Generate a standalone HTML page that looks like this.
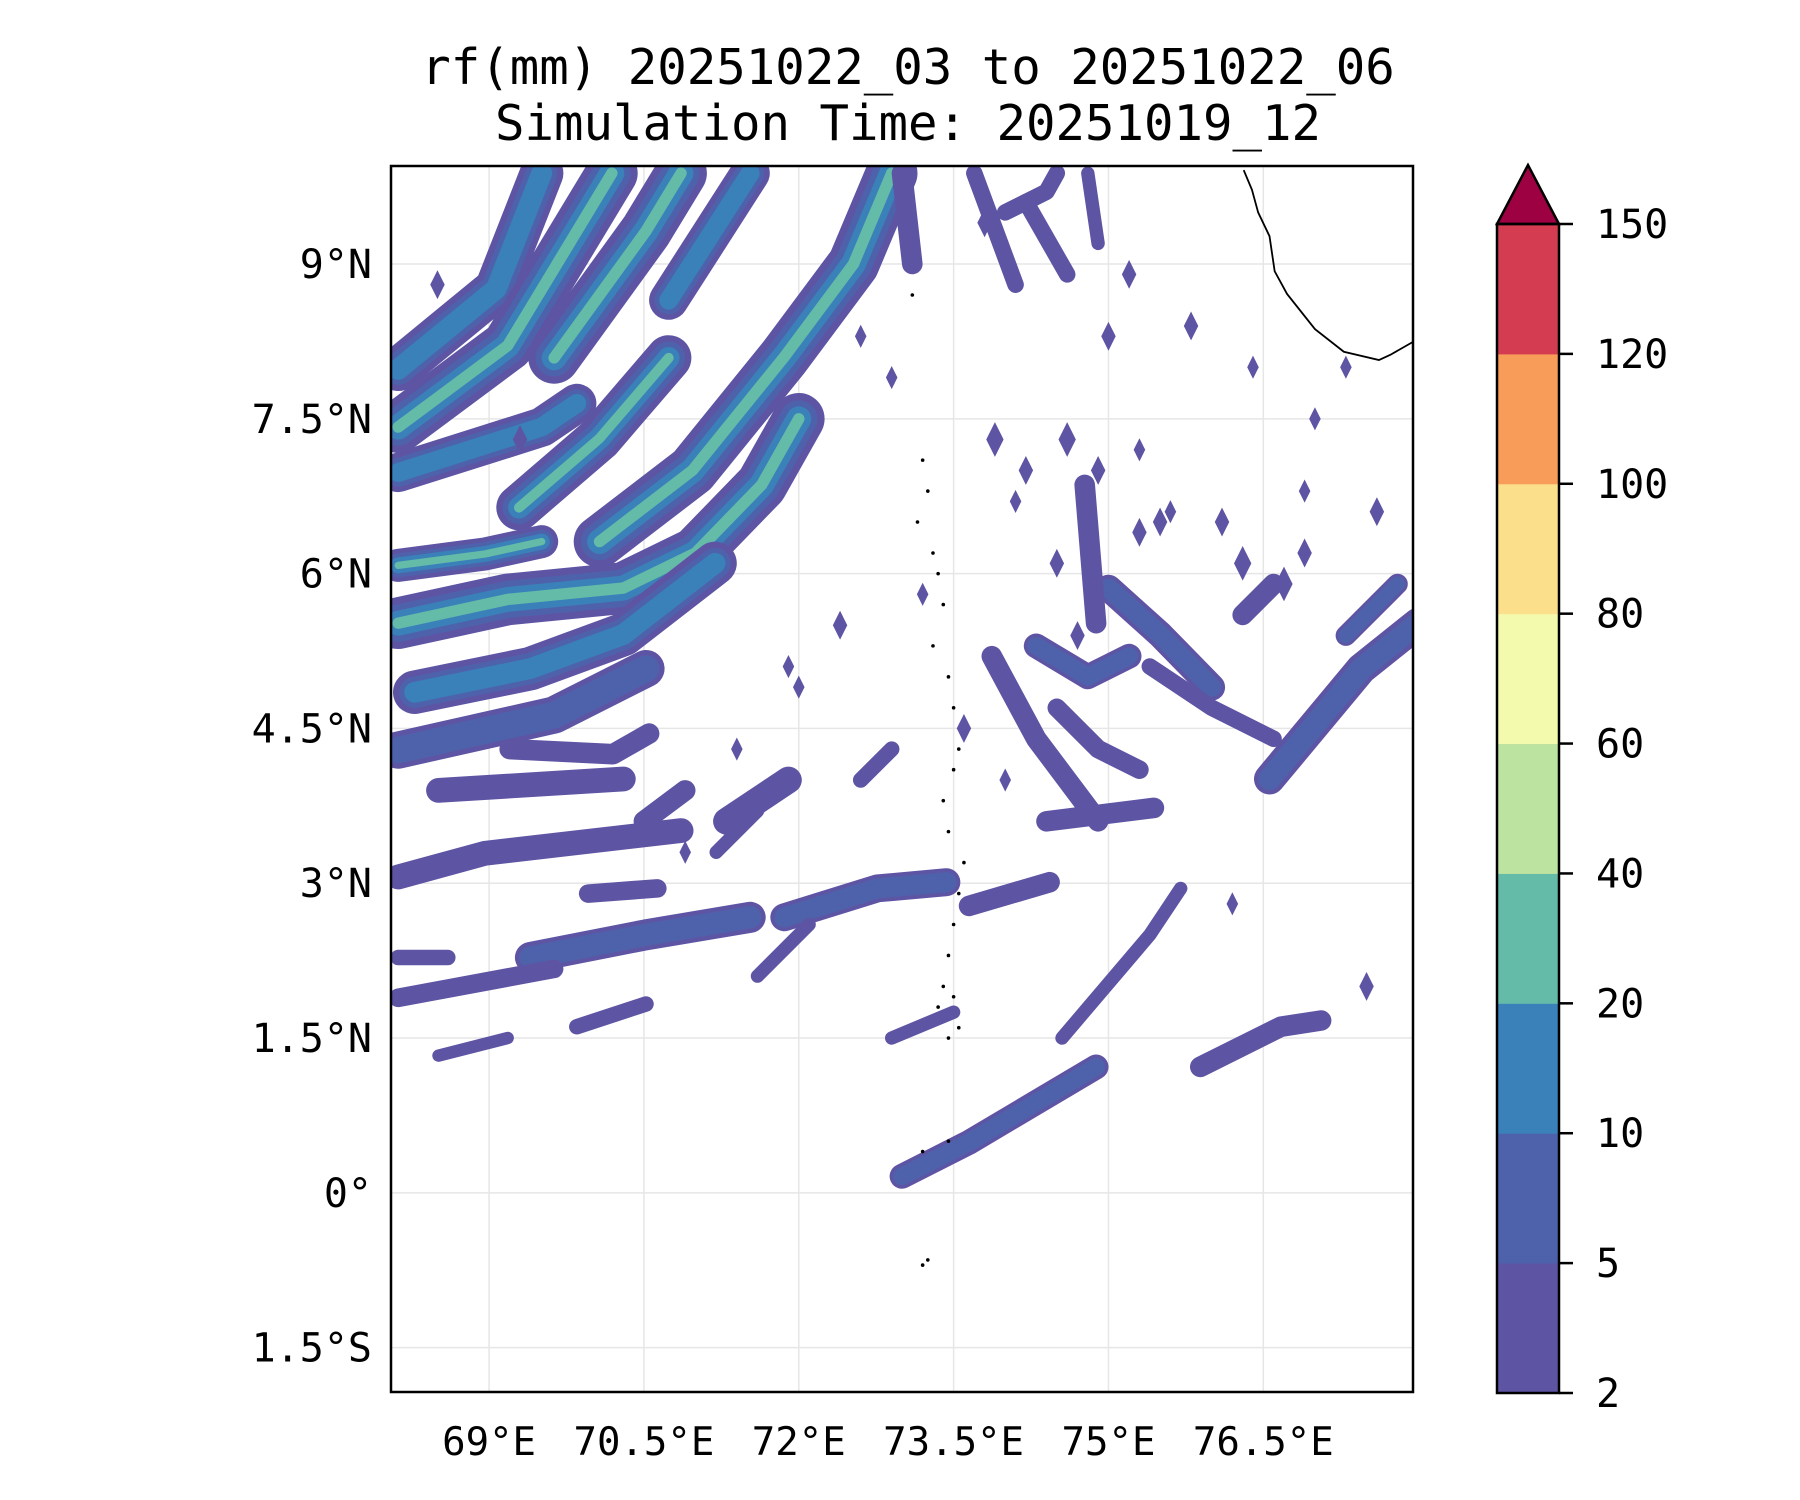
<!DOCTYPE html>
<html><head><meta charset="utf-8"><style>
body{margin:0;background:#fff;}
svg{display:block;font-family:"DejaVu Sans Mono","Liberation Mono",monospace;}
</style></head><body>
<svg id="chart" width="1800" height="1500" viewBox="0 0 1800 1500">
<text x="908" y="84" font-size="49" text-anchor="middle">rf(mm) 20251022_03 to 20251022_06</text>
<text x="908" y="140" font-size="49" text-anchor="middle">Simulation Time: 20251019_12</text>
<defs><clipPath id="clip"><rect x="391" y="166" width="1022" height="1226"/></clipPath></defs>
<g id="grid"></g>
<g id="field" clip-path="url(#clip)"></g>
<g id="coast" clip-path="url(#clip)"></g>
<rect x="391" y="166" width="1022" height="1226" fill="none" stroke="#000" stroke-width="2.5"/>
<g id="xt"></g>
<g id="yt"></g>
<g id="cb"></g>
</svg>
<script>
const NS="http://www.w3.org/2000/svg";
const lonMin=68.05, lonMax=77.95, latMin=-1.93, latMax=9.95;
const xTicks=[69,70.5,72,73.5,75,76.5];
const xTickLabels=["69°E","70.5°E","72°E","73.5°E","75°E","76.5°E"];
const yTicks=[-1.5,0,1.5,3,4.5,6,7.5,9];
const yTickLabels=["1.5°S","0°","1.5°N","3°N","4.5°N","6°N","7.5°N","9°N"];
const cbLevels=[2,5,10,20,40,60,80,100,120,150];
const cbColors=["#5e54a4","#4e62ab","#3a80b9","#63bba8","#bde3a0","#f3faad","#fbdf8b","#f89c59","#d43d51"];
const cbOverColor="#9e0142";
// rain bands: polylines in lon/lat, width in degrees, max level index
const bandPaths=[
[[68.12,7.98],[69.07,8.76],[69.51,9.88]],
[[68.12,7.42],[69.18,8.21],[70.19,9.88]],
[[68.12,6.98],[69.51,7.42],[69.85,7.65]],
[[69.63,8.09],[70.52,9.32],[70.86,9.88]],
[[69.29,6.64],[70.07,7.31],[70.74,8.09]],
[[70.74,8.65],[71.53,9.88]],
[[70.07,6.31],[70.97,7.0],[71.86,8.1],[72.53,9.0],[72.9,9.88]],
[[68.12,6.08],[68.96,6.19],[69.51,6.31]],
[[68.12,5.52],[69.18,5.75],[70.3,5.86],[71.0,6.2],[71.64,6.86],[72.0,7.5]],
[[68.28,4.85],[69.4,5.08],[70.3,5.41],[71.19,6.1]],
[[68.12,4.29],[69.63,4.63],[70.52,5.08]],
[[68.51,3.90],[70.3,4.01]],
[[68.12,3.06],[68.96,3.29],[70.86,3.51]],
[[69.96,2.90],[70.63,2.95]],
[[69.4,2.28],[70.52,2.50],[71.53,2.67]],
[[68.12,1.89],[69.63,2.17]],
[[68.12,2.28],[68.6,2.28]],
[[69.85,1.61],[70.52,1.83]],
[[68.51,1.33],[69.18,1.50]],
[[71.86,2.67],[72.76,2.95],[73.43,3.01]],
[[73.65,2.78],[74.43,3.01]],
[[73.0,0.16],[73.65,0.49],[74.88,1.22]],
[[75.89,1.22],[76.67,1.61],[77.06,1.67]],
[[76.56,4.01],[77.45,5.08],[78.0,5.52]],
[[74.4,3.6],[75.44,3.73]],
[[75.0,5.86],[75.5,5.41],[76.0,4.9]],
[[74.77,6.86],[74.88,5.52]],
[[71.3,3.6],[71.9,4.0]],
[[73.0,9.88],[73.1,9.0]],
[[73.7,9.88],[74.1,8.8]],
[[74.2,9.6],[74.6,8.9]],
[[74.8,9.88],[74.9,9.2]],
[[73.87,5.2],[74.3,4.4],[74.9,3.6]],
[[75.4,5.1],[76.0,4.7],[76.6,4.4]],
[[74.55,1.5],[75.4,2.5],[75.7,2.95]],
[[72.9,1.5],[73.5,1.75]],
[[71.6,2.1],[72.1,2.6]],
[[71.2,3.3],[71.6,3.7]],
[[74.3,5.3],[74.8,5.0],[75.2,5.2]],
[[76.3,5.6],[76.6,5.9]],
[[77.3,5.4],[77.8,5.9]],
[[69.2,4.3],[70.2,4.25],[70.55,4.45]],
[[70.5,3.6],[70.9,3.9]],
[[74.5,4.7],[74.9,4.3],[75.3,4.1]],
[[72.6,4.0],[72.9,4.3]],
[[74.0,9.5],[74.4,9.7],[74.5,9.88]]
];
const bandWidths=[0.42,0.5,0.38,0.5,0.44,0.38,0.5,0.32,0.5,0.42,0.36,0.24,0.24,0.18,0.3,0.18,0.15,0.15,0.12,0.27,0.2,0.24,0.2,0.3,0.2,0.26,0.2,0.26,0.2,0.16,0.16,0.13,0.2,0.16,0.13,0.13,0.13,0.13,0.24,0.2,0.2,0.2,0.2,0.18,0.15,0.16];
const bandLevels=[2,3,2,3,3,2,3,3,3,2,1,0,0,0,1,0,0,0,0,1,0,1,0,1,0,1,0,0,0,0,0,0,0,0,0,0,0,0,1,0,1,0,0,0,0,0];
// isolated small cells
const cellLon=[68.5,69.3,72.6,72.9,73.9,74.2,74.6,74.9,75.3,75.6,76.1,76.9,77.3,75.0,75.8,76.4,77.0,74.5,73.2,72.4,71.9,71.4,70.9,76.2,77.5,73.6,74.0,75.3,76.7,72.0,75.5,76.3,76.9,74.1,75.2,77.6,74.7,73.8];
const cellLat=[8.8,7.3,8.3,7.9,7.3,7.0,7.3,7.0,7.2,6.6,6.5,6.8,8.0,8.3,8.4,8.0,7.5,6.1,5.8,5.5,5.1,4.3,3.3,2.8,2.0,4.5,4.0,6.4,5.9,4.9,6.5,6.1,6.2,6.7,8.9,6.6,5.4,9.4];
const cellSize=[0.1,0.1,0.08,0.08,0.12,0.1,0.12,0.1,0.08,0.08,0.1,0.08,0.08,0.1,0.1,0.08,0.08,0.1,0.08,0.1,0.08,0.08,0.08,0.08,0.1,0.1,0.08,0.1,0.12,0.08,0.1,0.12,0.1,0.08,0.1,0.1,0.1,0.1];
// coastline and islands
const coastLon=[76.31,76.39,76.45,76.56,76.61,76.73,77.0,77.28,77.62,77.73,78.01];
const coastLat=[9.91,9.72,9.5,9.27,8.93,8.71,8.37,8.15,8.07,8.12,8.28];
const islandLon=[73.1,73.2,73.25,73.15,73.3,73.35,73.4,73.3,73.45,73.5,73.55,73.5,73.4,73.45,73.6,73.55,73.5,73.45,73.4,73.35,73.45,73.5,73.55,73.45,73.2,73.25,73.2];
const islandLat=[8.7,7.1,6.8,6.5,6.2,6.0,5.7,5.3,5.0,4.7,4.3,4.1,3.8,3.5,3.2,2.9,2.6,2.3,2.0,1.8,1.5,1.9,1.6,0.5,0.4,-0.65,-0.7];

const X0=391,X1=1413,Y0=166,Y1=1392;
function xs(lon){return X0+(lon-lonMin)/(lonMax-lonMin)*(X1-X0);}
function ys(lat){return Y1-(lat-latMin)/(latMax-latMin)*(Y1-Y0);}
const pxPerDeg=(X1-X0)/(lonMax-lonMin);
function mk(tag,attrs,parent){const e=document.createElementNS(NS,tag);for(const k in attrs)e.setAttribute(k,attrs[k]);parent.appendChild(e);return e;}

const grid=document.getElementById('grid');
xTicks.forEach(t=>{const l=mk('line',{x1:xs(t),x2:xs(t),y1:Y0,y2:Y1,stroke:'#e6e6e6','stroke-width':1.5},grid);

});
yTicks.forEach(t=>{const l=mk('line',{x1:X0,x2:X1,y1:ys(t),y2:ys(t),stroke:'#e6e6e6','stroke-width':1.5},grid);

});

const field=document.getElementById('field');
const fracs=[1,0.72,0.48,0.22];
bandPaths.forEach((p,i)=>{
  const pts=p.map(q=>xs(q[0]).toFixed(1)+','+ys(q[1]).toFixed(1)).join(' ');
  for(let L=0;L<=bandLevels[i];L++){
    const e=mk('polyline',{points:pts,fill:'none',stroke:cbColors[L],'stroke-width':(bandWidths[i]*pxPerDeg*fracs[L]).toFixed(1),'stroke-linecap':'round','stroke-linejoin':'round'},field);
    
    
  }
});
cellLon.forEach((lo,i)=>{
  const cx=xs(lo),cy=ys(cellLat[i]),r=cellSize[i]*pxPerDeg;
  const e=mk('polygon',{points:`${cx},${cy-r*1.4} ${cx+r*0.7},${cy} ${cx},${cy+r*1.4} ${cx-r*0.7},${cy}`,fill:cbColors[0]},field);
  
  
});

const coast=document.getElementById('coast');
const cl=mk('polyline',{points:coastLon.map((lo,i)=>xs(lo)+','+ys(coastLat[i])).join(' '),fill:'none',stroke:'#000','stroke-width':1.8},coast);


islandLon.forEach((lo,i)=>{const d=mk('circle',{cx:xs(lo),cy:ys(islandLat[i]),r:1.8,fill:'#000'},coast);

});

const xt=document.getElementById('xt');
xTicks.forEach((t,i)=>{const e=mk('text',{x:xs(t),y:1455,'font-size':39,'text-anchor':'middle'},xt);e.textContent=xTickLabels[i];

});
const yt=document.getElementById('yt');
yTicks.forEach((t,i)=>{const e=mk('text',{x:372,y:ys(t)+14,'font-size':40,'text-anchor':'end'},yt);e.textContent=yTickLabels[i];

});

const cb=document.getElementById('cb');
const CX0=1497,CX1=1559,CT=224,CB=1393,seg=(CB-CT)/cbColors.length;
cbColors.forEach((c,i)=>{const r=mk('rect',{x:CX0,y:CB-(i+1)*seg,width:CX1-CX0,height:seg+0.5,fill:c},cb);

});
const tri=mk('polygon',{points:`${CX0},${CT} ${(CX0+CX1)/2},${165} ${CX1},${CT}`,fill:cbOverColor,stroke:'#000','stroke-width':2.5},cb);


const fr=mk('rect',{x:CX0,y:CT,width:CX1-CX0,height:CB-CT,fill:'none',stroke:'#000','stroke-width':2.5},cb);


cbLevels.forEach((v,i)=>{const y=CB-i*seg;
 mk('line',{x1:CX1,x2:CX1+14,y1:y,y2:y,stroke:'#000','stroke-width':2.5},cb);
 const t=mk('text',{x:1596,y:y+14,'font-size':40},cb);t.textContent=v;
 
 });
</script>
</body></html>
